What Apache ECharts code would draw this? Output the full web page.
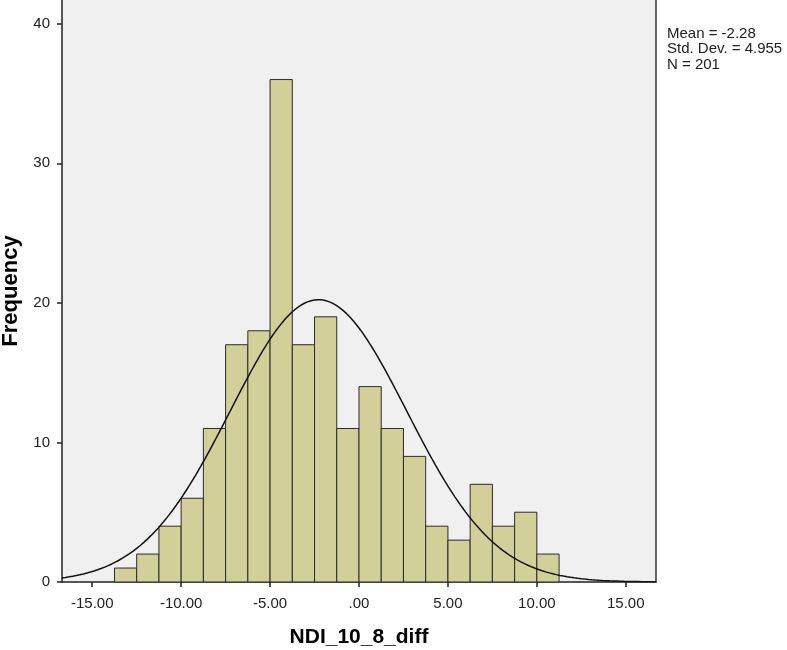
<!DOCTYPE html>
<html>
<head>
<meta charset="utf-8">
<script src="https://cdn.jsdelivr.net/npm/echarts@6/dist/echarts.min.js"></script>
<style>html,body{margin:0;padding:0;background:#fff}#c{width:787px;height:650px}</style>
</head>
<body>
<div id="c"></div>
<script>
// Histogram bins (start, end) and frequencies
const binStarts = [-13.75,-12.5,-11.25,-10,-8.75,-7.5,-6.25,-5,-3.75,-2.5,-1.25,0,1.25,2.5,3.75,5,6.25,7.5,8.75,10];
const binWidth = 1.25;
const counts = [1,2,4,6,11,17,18,36,17,19,11,14,11,9,4,3,7,4,5,2];
const xTicks = [-15,-10,-5,0,5,10,15];
const yTicks = [0,10,20,30,40];
// Summary statistics shown in the chart
const mean = -2.28;
const stdDev = 4.955;
const nObs = 201;
const xMin = -16.7, xMax = 16.7;

// Fitted normal curve (SPSS: N * binWidth * normal pdf)
const curve = [];
for (let x = xMin; x <= xMax + 1e-9; x += 0.1) {
  const z = (x - mean) / stdDev;
  curve.push([x, nObs * binWidth * Math.exp(-0.5 * z * z) / (stdDev * Math.sqrt(2 * Math.PI))]);
}
const barData = binStarts.map((s, i) => [s, s + binWidth, counts[i]]);

const fmtX = v => (v === 0 ? '.00' : v.toFixed(2));

const chart = echarts.init(document.getElementById('c'), null, {renderer: 'canvas'});
chart.setOption({
  animation: false,
  backgroundColor: '#ffffff',
  grid: {left: 62, right: 131, top: 0, bottom: 68, show: true, backgroundColor: '#f0f0f0', borderWidth: 0,
         containLabel: false, outerBoundsMode: 'none'},
  xAxis: {
    type: 'value', min: xMin, max: xMax,
    name: 'NDI_10_8_diff', nameLocation: 'middle', nameGap: 45,
    nameTextStyle: {fontFamily: 'Liberation Sans, Arial', fontWeight: 'bold', fontSize: 21, color: '#000'},
    axisLine: {show: true, onZero: false, lineStyle: {color: '#222', width: 1.5}},
    axisTick: {show: true, length: 5, lineStyle: {color: '#222', width: 1.5}, customValues: xTicks},
    axisLabel: {customValues: xTicks, formatter: fmtX, fontFamily: 'Liberation Sans, Arial', fontSize: 15, color: '#222', margin: 14},
    splitLine: {show: false}
  },
  yAxis: [{
    type: 'value', min: 0, max: 41.7, position: 'left',
    name: 'Frequency', nameLocation: 'middle', nameGap: 39, nameRotate: 90,
    nameTextStyle: {fontFamily: 'Liberation Sans, Arial', fontWeight: 'bold', fontSize: 22, color: '#000'},
    axisLine: {show: true, onZero: false, lineStyle: {color: '#222', width: 1.5}},
    axisTick: {show: true, length: 5, lineStyle: {color: '#222', width: 1.5}, customValues: yTicks},
    axisLabel: {customValues: yTicks, fontFamily: 'Liberation Sans, Arial', fontSize: 15, color: '#222', margin: 12},
    splitLine: {show: false}
  }, {
    type: 'value', min: 0, max: 41.7, position: 'right',
    axisLine: {show: true, onZero: false, lineStyle: {color: '#333', width: 1.5}},
    axisTick: {show: false}, axisLabel: {show: false}, splitLine: {show: false}
  }],
  series: [{
    type: 'custom',
    data: barData,
    encode: {x: [0, 1], y: 2},
    renderItem: function (params, api) {
      const p0 = api.coord([api.value(0), 0]);
      const p1 = api.coord([api.value(1), api.value(2)]);
      return {
        type: 'rect',
        shape: {x: p0[0], y: p1[1], width: p1[0] - p0[0], height: p0[1] - p1[1]},
        style: {fill: '#d3cf98', stroke: '#2a2a2a', lineWidth: 1}
      };
    },
    z: 2
  }, {
    type: 'line', data: curve, showSymbol: false, smooth: false,
    lineStyle: {color: '#111', width: 1.5}, z: 3, silent: true
  }],
  graphic: [{
    type: 'text', left: 667, top: 26,
    style: {
      text: 'Mean = -2.28\nStd. Dev. = 4.955\nN = 201',
      font: '15px "Liberation Sans", Arial', fill: '#222', lineHeight: 15.5
    }
  }]
});
</script>
</body>
</html>
